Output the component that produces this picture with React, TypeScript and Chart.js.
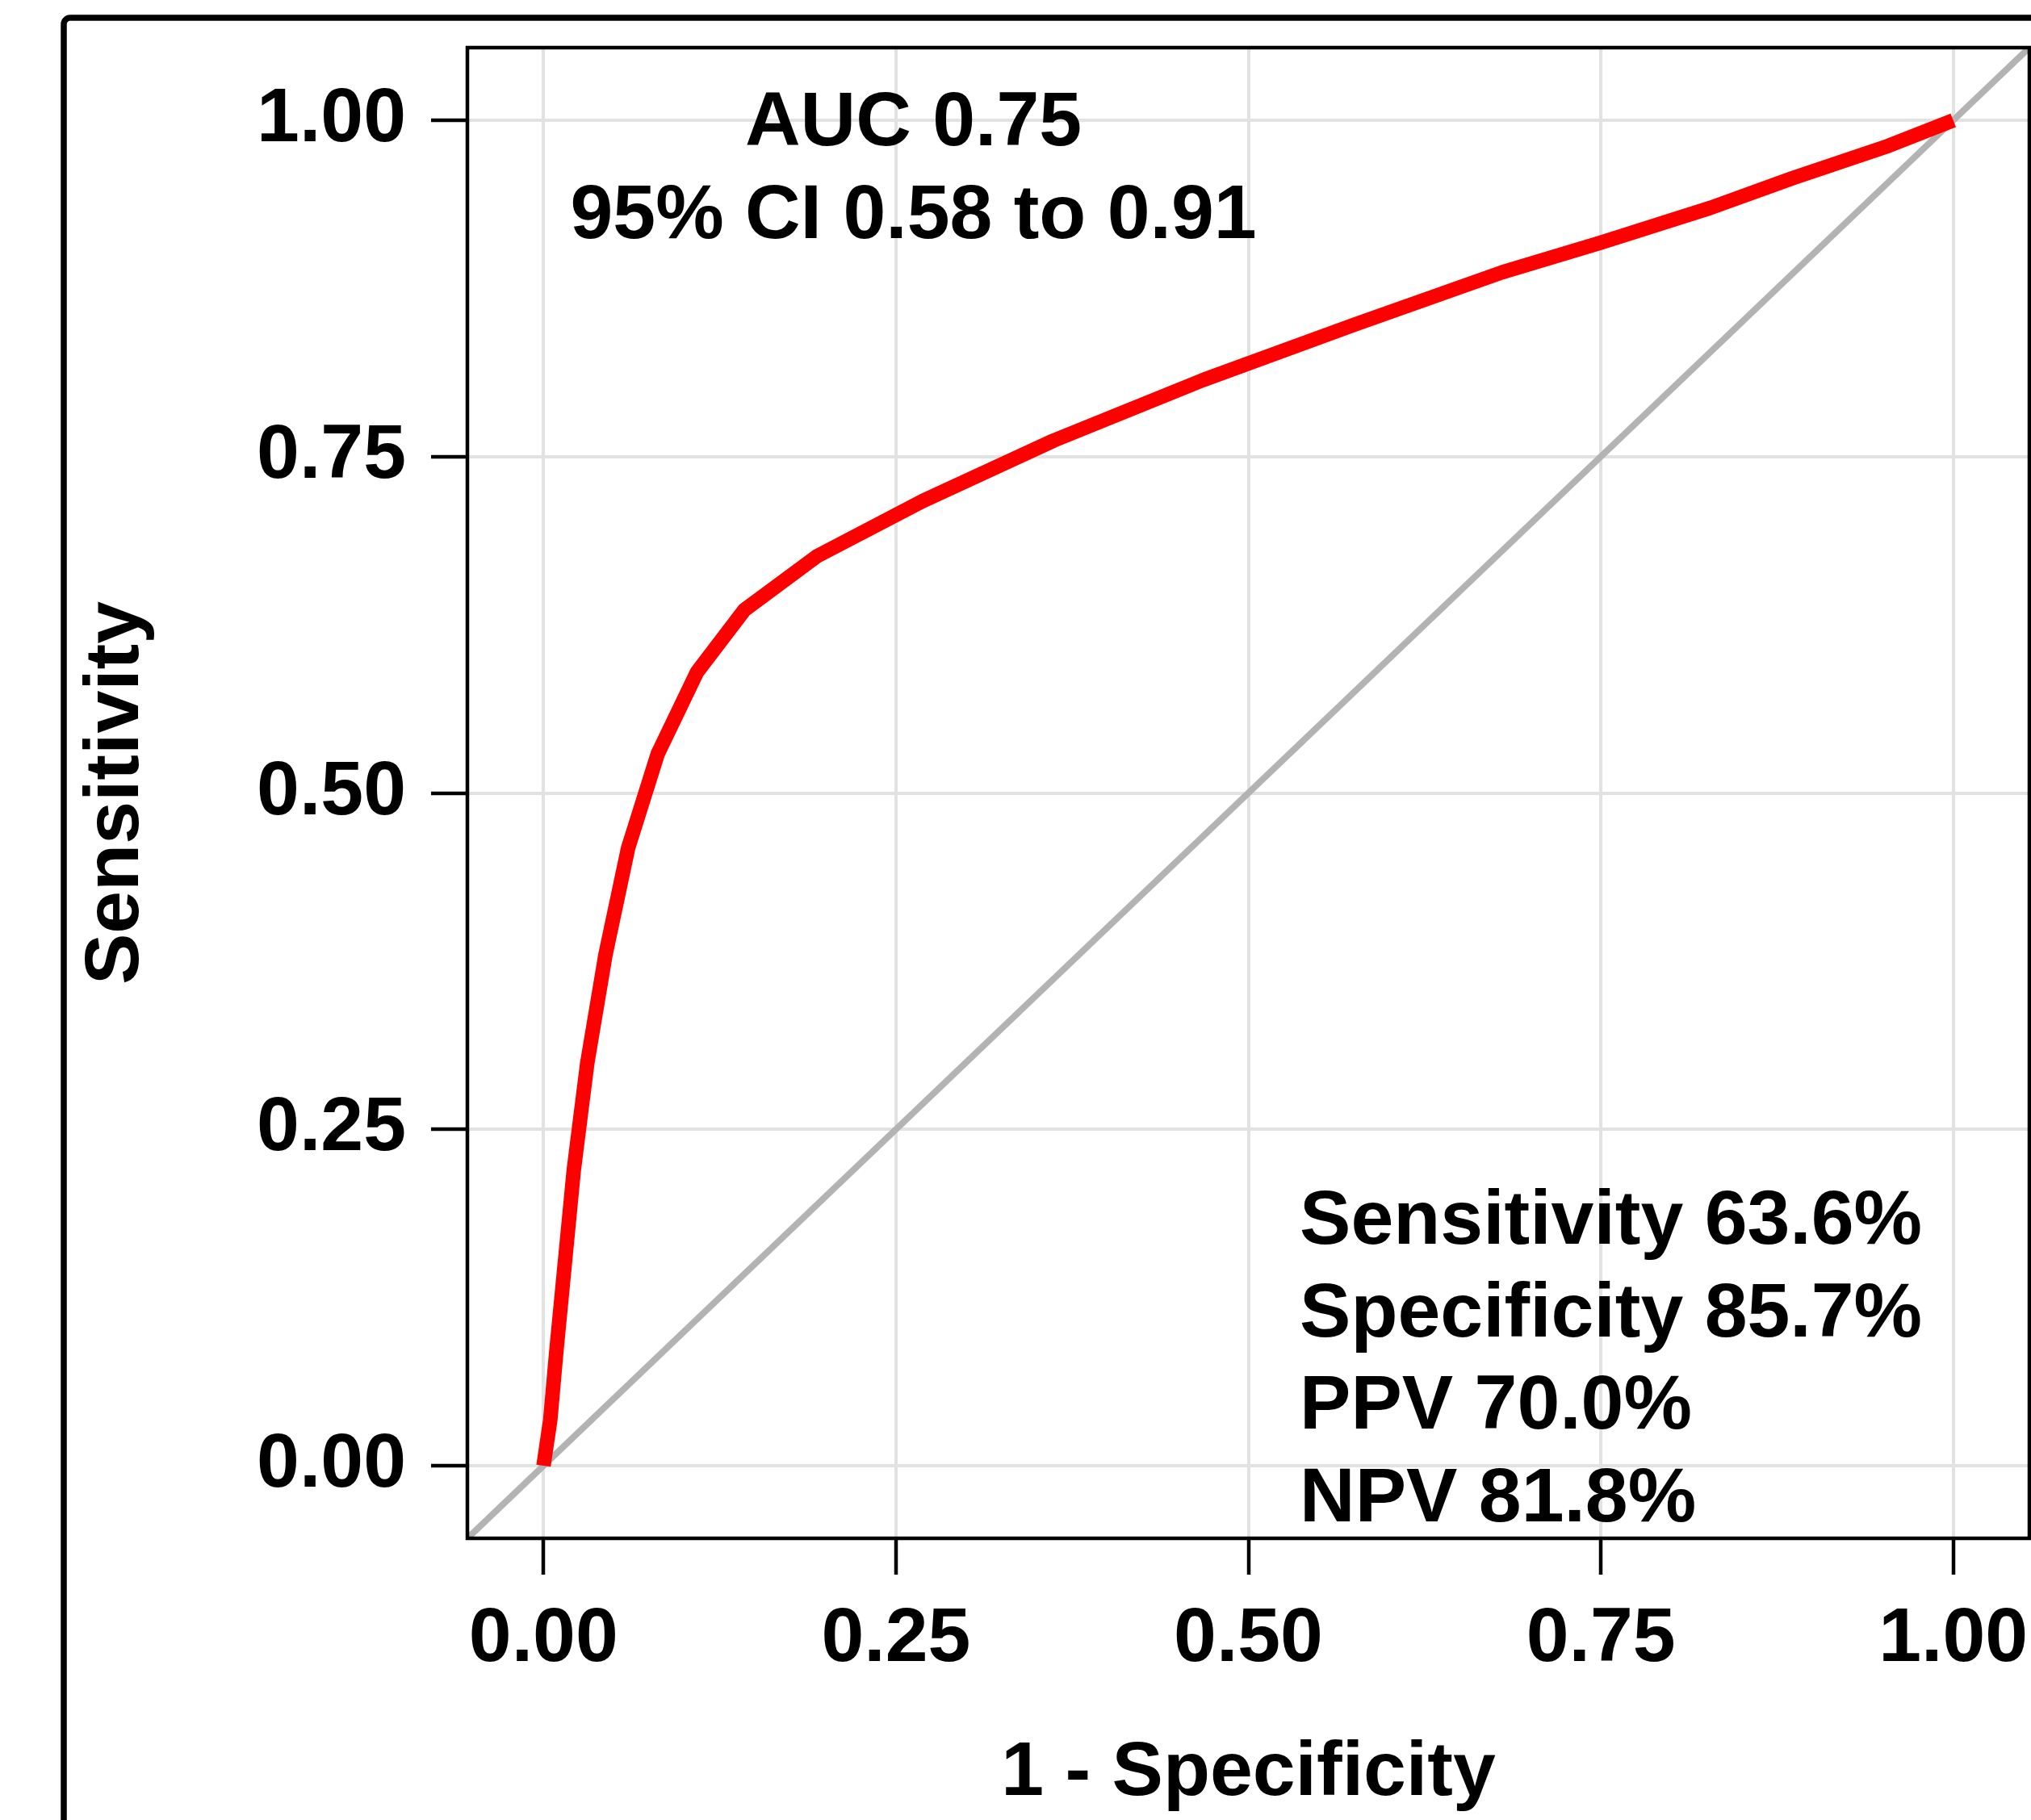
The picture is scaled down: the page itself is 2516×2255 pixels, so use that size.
import React, { useEffect, useRef } from "react";
import { Chart, registerables } from "chart.js";

Chart.register(...registerables);

// ROC curve: 1 - specificity (x) vs sensitivity (y)
const rocFpr = [0, 0.0048, 0.009, 0.0215, 0.031, 0.044, 0.06, 0.081, 0.109, 0.1425, 0.194, 0.269, 0.362, 0.468, 0.575, 0.68, 0.75, 0.828, 0.886, 0.954, 1];
const rocTpr = [0, 0.034, 0.084, 0.22, 0.299, 0.38, 0.459, 0.529, 0.59, 0.636, 0.676, 0.717, 0.762, 0.807, 0.848, 0.887, 0.909, 0.935, 0.957, 0.981, 1];

const axisTicks = [0, 0.25, 0.5, 0.75, 1];
const axisMin = -0.054;
const axisMax = 1.054;
const chanceLine = [axisMin, axisMax];

const xTitle = "1 - Specificity";
const yTitle = "Sensitivity";
const aucLines = ["AUC 0.75", "95% CI 0.58 to 0.91"];
const statLines = ["Sensitivity 63.6%", "Specificity 85.7%", "PPV 70.0%", "NPV 81.8%"];

const FONT = '"Liberation Sans", Arial, Helvetica, sans-serif';
const FS = 95;

const W = 2516;
const H = 2255;

const decorPlugin = {
  id: "rocDecor",
  beforeDraw(chart: any) {
    const ctx = chart.ctx;
    ctx.save();
    ctx.fillStyle = "#ffffff";
    ctx.fillRect(0, 0, chart.width, chart.height);
    ctx.strokeStyle = "#000000";
    ctx.lineWidth = 7.5;
    ctx.beginPath();
    if ((ctx as any).roundRect) {
      (ctx as any).roundRect(79, 22, 4000, 4000, 8);
    } else {
      ctx.rect(79, 22, 4000, 4000);
    }
    ctx.stroke();
    ctx.restore();
  },
  afterDatasetsDraw(chart: any) {
    const ctx = chart.ctx;
    const ca = chart.chartArea;
    const xs = chart.scales.x;
    const ys = chart.scales.y;
    ctx.save();
    // panel border
    ctx.strokeStyle = "#000000";
    ctx.lineWidth = 4.5;
    ctx.strokeRect(ca.left, ca.top, ca.right - ca.left, ca.bottom - ca.top);

    ctx.fillStyle = "#000000";
    ctx.font = `bold ${FS}px ${FONT}`;
    ctx.textBaseline = "alphabetic";
    const lineGap = 115;

    // AUC block (centered)
    ctx.textAlign = "center";
    const ax = xs.getPixelForValue(0.2624);
    const ay = ys.getPixelForValue(0.9813);
    aucLines.forEach((t, i) => ctx.fillText(t, ax, ay + i * lineGap));

    // Diagnostic stats block (left aligned, anchored on last line)
    ctx.textAlign = "left";
    const sx = xs.getPixelForValue(0.5364);
    const sy = ys.getPixelForValue(-0.0414);
    const n = statLines.length;
    statLines.forEach((t, i) => ctx.fillText(t, sx, sy - (n - 1 - i) * 114.7));
    ctx.restore();
  },
};

export default function App() {
  const ref = useRef<HTMLCanvasElement | null>(null);

  useEffect(() => {
    if (!ref.current) return;
    const tickFont = { family: FONT, size: FS, weight: "bold" as const };
    const commonGrid = {
      color: "#e2e2e2",
      lineWidth: 4,
      drawTicks: true,
      tickLength: 45,
      tickColor: "#000000",
      tickWidth: 4.5,
    };
    const chart = new Chart(ref.current, {
      type: "line",
      data: {
        datasets: [
          {
            label: "ROC",
            data: rocFpr.map((x, i) => ({ x, y: rocTpr[i] })),
            borderColor: "#ff0000",
            borderWidth: 18,
            borderCapStyle: "butt",
            borderJoinStyle: "round",
            pointRadius: 0,
            tension: 0,
            fill: false,
          },
          {
            label: "Chance",
            data: chanceLine.map((v) => ({ x: v, y: v })),
            borderColor: "#b3b3b3",
            borderWidth: 8,
            pointRadius: 0,
            tension: 0,
            fill: false,
          },
        ],
      },
      options: {
        animation: false,
        responsive: false,
        devicePixelRatio: 1,
        layout: { padding: { left: 88, top: 59, right: 2, bottom: 0 }, autoPadding: false },
        plugins: {
          legend: { display: false },
          tooltip: { enabled: false },
          title: { display: false },
        },
        scales: {
          x: {
            type: "linear",
            min: axisMin,
            max: axisMax,
            afterBuildTicks: (s: any) => {
              s.ticks = axisTicks.map((v) => ({ value: v }));
            },
            afterFit: (s: any) => {
              s.height = 349;
              s.paddingLeft = 0;
              s.paddingRight = 0;
            },
            ticks: {
              color: "#000000",
              font: tickFont,
              padding: 24,
              maxRotation: 0,
              autoSkip: false,
              callback: (v: any) => Number(v).toFixed(2),
            },
            grid: commonGrid,
            border: { display: false },
            title: {
              display: true,
              text: xTitle,
              color: "#000000",
              font: tickFont,
              padding: { top: 0, bottom: 0 },
            },
          },
          y: {
            type: "linear",
            min: axisMin,
            max: axisMax,
            afterBuildTicks: (s: any) => {
              s.ticks = axisTicks.map((v) => ({ value: v }));
            },
            afterFit: (s: any) => {
              s.width = 491;
              s.paddingTop = 0;
              s.paddingBottom = 0;
            },
            ticks: {
              color: "#000000",
              font: tickFont,
              padding: 31,
              autoSkip: false,
              callback: (v: any) => Number(v).toFixed(2),
            },
            grid: commonGrid,
            border: { display: false },
            title: {
              display: true,
              text: yTitle,
              color: "#000000",
              font: tickFont,
              padding: { top: 0, bottom: 0 },
            },
          },
        },
      } as any,
      plugins: [decorPlugin],
    });
    return () => chart.destroy();
  }, []);

  return (
    <div style={{ position: "fixed", left: 0, top: 0, width: W, height: H, overflow: "hidden", background: "#fff" }}>
      <canvas ref={ref} width={W} height={H} style={{ display: "block", width: W, height: H }} />
    </div>
  );
}
